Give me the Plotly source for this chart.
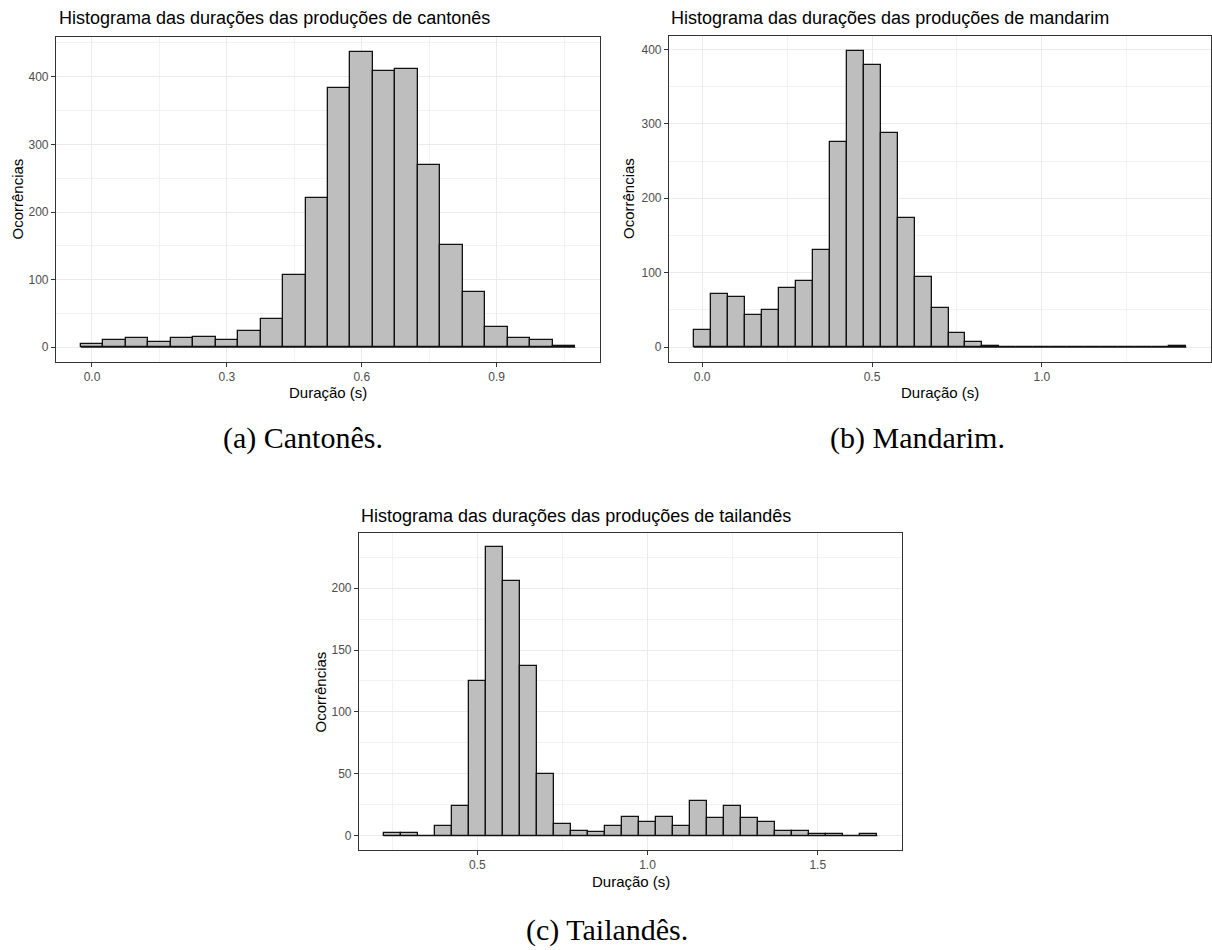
import plotly.graph_objects as go

# ---------------- data ----------------
bin_width = 0.05

cant_x = [0.00, 0.05, 0.10, 0.15, 0.20, 0.25, 0.30, 0.35, 0.40, 0.45, 0.50,
          0.55, 0.60, 0.65, 0.70, 0.75, 0.80, 0.85, 0.90, 0.95, 1.00, 1.05]
cant_y = [5, 11, 13, 7, 14, 15, 11, 24, 42, 107, 221,
          383, 437, 409, 412, 269, 151, 82, 30, 14, 10, 2]

mand_x = [0.00, 0.05, 0.10, 0.15, 0.20, 0.25, 0.30, 0.35, 0.40, 0.45,
          0.50, 0.55, 0.60, 0.65, 0.70, 0.75, 0.80, 0.85, 0.90, 0.95,
          1.00, 1.05, 1.10, 1.15, 1.20, 1.25, 1.30, 1.35, 1.40]
mand_y = [23, 71, 67, 43, 50, 79, 89, 131, 275, 398,
          379, 287, 174, 94, 53, 19, 7, 1, 0, 0,
          0, 0, 0, 0, 0, 0, 0, 0, 1]

thai_x = [0.25, 0.30, 0.35, 0.40, 0.45, 0.50, 0.55, 0.60, 0.65, 0.70,
          0.75, 0.80, 0.85, 0.90, 0.95, 1.00, 1.05, 1.10, 1.15, 1.20,
          1.25, 1.30, 1.35, 1.40, 1.45, 1.50, 1.55, 1.60, 1.65]
thai_y = [2, 2, 0, 8, 24, 125, 233, 206, 137, 50,
          9, 4, 3, 8, 15, 11, 15, 8, 28, 14,
          24, 14, 11, 4, 4, 1, 1, 0, 1]

cant_xticks = [0.0, 0.3, 0.6, 0.9]
cant_xticktext = ["0.0", "0.3", "0.6", "0.9"]
cant_xminor = [0.15, 0.45, 0.75, 1.05]
cant_yticks = [0, 100, 200, 300, 400]
cant_yminor = [50, 150, 250, 350, 450]

mand_xticks = [0.0, 0.5, 1.0]
mand_xticktext = ["0.0", "0.5", "1.0"]
mand_xminor = [0.25, 0.75, 1.25]
mand_yticks = [0, 100, 200, 300, 400]
mand_yminor = [50, 150, 250, 350]

thai_xticks = [0.5, 1.0, 1.5]
thai_xticktext = ["0.5", "1.0", "1.5"]
thai_xminor = [0.25, 0.75, 1.25]
thai_yticks = [0, 50, 100, 150, 200]
thai_yminor = [25, 75, 125, 175, 225]

titles = ["Histograma das durações das produções de cantonês",
          "Histograma das durações das produções de mandarim",
          "Histograma das durações das produções de tailandês"]
captions = ["(a) Cantonês.", "(b) Mandarim.", "(c) Tailandês."]
x_title = "Duração (s)"
y_title = "Ocorrências"

# ---------------- layout helpers ----------------
W, H = 1212, 950
FONT = "Liberation Sans, Arial, sans-serif"
SERIF = "Liberation Serif, Times New Roman, serif"


def fx(p):
    return p / W


def fy(p):
    return 1 - p / H


panels = [
    dict(x=cant_x, y=cant_y, xt=cant_xticks, xtt=cant_xticktext, xm=cant_xminor,
         yt=cant_yticks, ym=cant_yminor, box=(56, 600, 37, 362),
         title_pos=(57, 18), ytitle_x=17, xtitle_y=392),
    dict(x=mand_x, y=mand_y, xt=mand_xticks, xtt=mand_xticktext, xm=mand_xminor,
         yt=mand_yticks, ym=mand_yminor, box=(669, 1211, 36, 362),
         title_pos=(669, 18), ytitle_x=629, xtitle_y=392),
    dict(x=thai_x, y=thai_y, xt=thai_xticks, xtt=thai_xticktext, xm=thai_xminor,
         yt=thai_yticks, ym=thai_yminor, box=(359, 902, 533, 850),
         title_pos=(359, 516), ytitle_x=320, xtitle_y=881),
]
caption_pos = [(303, 438), (917, 438), (607, 930)]

fig = go.Figure()
annotations = []

for i, p in enumerate(panels, start=1):
    sfx = "" if i == 1 else str(i)
    xa, ya = "x" + sfx, "y" + sfx
    x0, x1, y0, y1 = p["box"]

    lo = min(p["x"]) - bin_width / 2
    hi = max(p["x"]) + bin_width / 2
    span = hi - lo
    ymax = max(p["y"])

    fig.add_trace(go.Bar(
        x=p["x"], y=p["y"], width=bin_width,
        marker=dict(color="#BEBEBE", line=dict(color="#111111", width=1.3)),
        xaxis=xa, yaxis=ya, showlegend=False, hoverinfo="x+y",
    ))
    # ggplot draws empty bins as a line on the baseline
    fig.add_trace(go.Scatter(
        x=[lo, hi], y=[0, 0], mode="lines",
        line=dict(color="#111111", width=1.2),
        xaxis=xa, yaxis=ya, showlegend=False, hoverinfo="skip",
    ))

    axis_common = dict(
        showline=True, linecolor="#333333", linewidth=1.1, mirror=True,
        ticks="outside", ticklen=4, tickwidth=1, tickcolor="#333333",
        tickfont=dict(family=FONT, size=12, color="#4D4D4D"),
        showgrid=True, gridcolor="#EBEBEB", gridwidth=1.1,
        zeroline=False, fixedrange=True,
    )
    fig.update_layout({
        "xaxis" + sfx: dict(
            axis_common,
            domain=[fx(x0), fx(x1)], anchor=ya,
            range=[lo - 0.05 * span, hi + 0.05 * span],
            tickmode="array", tickvals=p["xt"], ticktext=p["xtt"],
            minor=dict(tickmode="array", tickvals=p["xm"], showgrid=True,
                       gridcolor="#F2F2F2", gridwidth=0.6, ticks=""),
        ),
        "yaxis" + sfx: dict(
            axis_common,
            domain=[fy(y1), fy(y0)], anchor=xa,
            range=[-0.05 * ymax, 1.05 * ymax],
            tickmode="array", tickvals=p["yt"],
            minor=dict(tickmode="array", tickvals=p["ym"], showgrid=True,
                       gridcolor="#F2F2F2", gridwidth=0.6, ticks=""),
        ),
    })

    tx, ty = p["title_pos"]
    annotations.append(dict(
        text=titles[i - 1], x=fx(tx), y=fy(ty), xref="paper", yref="paper",
        xanchor="left", yanchor="middle", showarrow=False,
        font=dict(family=FONT, size=18, color="#000000")))
    annotations.append(dict(
        text=x_title, x=fx((x0 + x1) / 2), y=fy(p["xtitle_y"]),
        xref="paper", yref="paper", xanchor="center", yanchor="middle",
        showarrow=False, font=dict(family=FONT, size=15, color="#000000")))
    annotations.append(dict(
        text=y_title, x=fx(p["ytitle_x"]), y=fy((y0 + y1) / 2),
        xref="paper", yref="paper", xanchor="center", yanchor="middle",
        textangle=-90, showarrow=False,
        font=dict(family=FONT, size=15, color="#000000")))

for cap, (cx, cy) in zip(captions, caption_pos):
    annotations.append(dict(
        text=cap, x=fx(cx), y=fy(cy), xref="paper", yref="paper",
        xanchor="center", yanchor="middle", showarrow=False,
        font=dict(family=SERIF, size=30, color="#000000")))

fig.update_layout(
    width=W, height=H,
    margin=dict(l=0, r=0, t=0, b=0),
    paper_bgcolor="white", plot_bgcolor="white",
    bargap=0, barmode="overlay",
    annotations=annotations,
    font=dict(family=FONT),
)

fig.write_html("out.html")
